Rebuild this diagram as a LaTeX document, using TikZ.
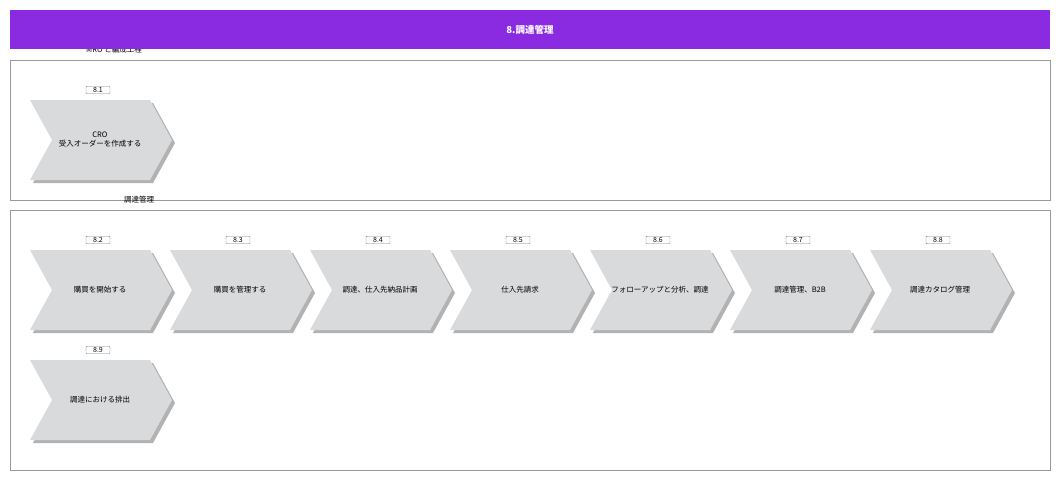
\documentclass[tikz,border=0pt]{standalone}
\usepackage{fontspec}
\setmainfont{Noto Sans CJK JP}
\definecolor{hdr}{HTML}{8A2BE2}
\definecolor{chev}{HTML}{D9DADC}
\definecolor{lane}{HTML}{9A9A9A}
\newcommand{\chevron}[5]{% name, x, y, number, text
  \fill[gray!60] (#2+3,#3+3) -- ++(120,0) -- ++(22,40) -- ++(-22,40) -- ++(-120,0) -- ++(22,-40) -- cycle;
  \fill[chev] (#2,#3) -- ++(120,0) -- ++(22,40) -- ++(-22,40) -- ++(-120,0) -- ++(22,-40) -- cycle;
  \node[txt] (#1) at (#2+70,#3+40) {#5};
  \node[tag] (#1n) at (#2+68,#3-10) {#4};
}
\begin{document}
\begin{tikzpicture}[x=1pt,y=-1pt,
    txt/.style={font=\fontsize{7.5}{9}\selectfont, align=center, text width=120pt},
    tag/.style={draw=gray, rounded corners=1pt, fill=white, font=\fontsize{7}{8}\selectfont, inner sep=1.2pt, minimum width=24pt},
    lanebox/.style={draw=lane, line width=1pt},
    lanelabel/.style={font=\fontsize{7.5}{9}\selectfont}]
    \useasboundingbox (0,0) rectangle (1060,480);
    % lanes
    \draw[lanebox] (10,60) rectangle (1050,200);
    \draw[lanebox] (10,210) rectangle (1050,470);
    \node[lanelabel] (l1) at (114,50) {MRO と編成工程};
    \node[lanelabel] (l2) at (139,200) {調達管理};
    % header
    \fill[hdr] (10,10) rectangle (1050,49);
    \node[text=white, font=\bfseries\fontsize{9.5}{11}\selectfont] (title) at (530,30) {8.調達管理};
    % steps
    \chevron{s1}{30}{100}{8.1}{CRO\\受入オーダーを作成する}
    \chevron{s2}{30}{250}{8.2}{購買を開始する}
    \chevron{s3}{170}{250}{8.3}{購買を管理する}
    \chevron{s4}{310}{250}{8.4}{調達、仕入先納品計画}
    \chevron{s5}{450}{250}{8.5}{仕入先請求}
    \chevron{s6}{590}{250}{8.6}{フォローアップと分析、調達}
    \chevron{s7}{730}{250}{8.7}{調達管理、B2B}
    \chevron{s8}{870}{250}{8.8}{調達カタログ管理}
    \chevron{s9}{30}{360}{8.9}{調達における排出}
\end{tikzpicture}
\end{document}
